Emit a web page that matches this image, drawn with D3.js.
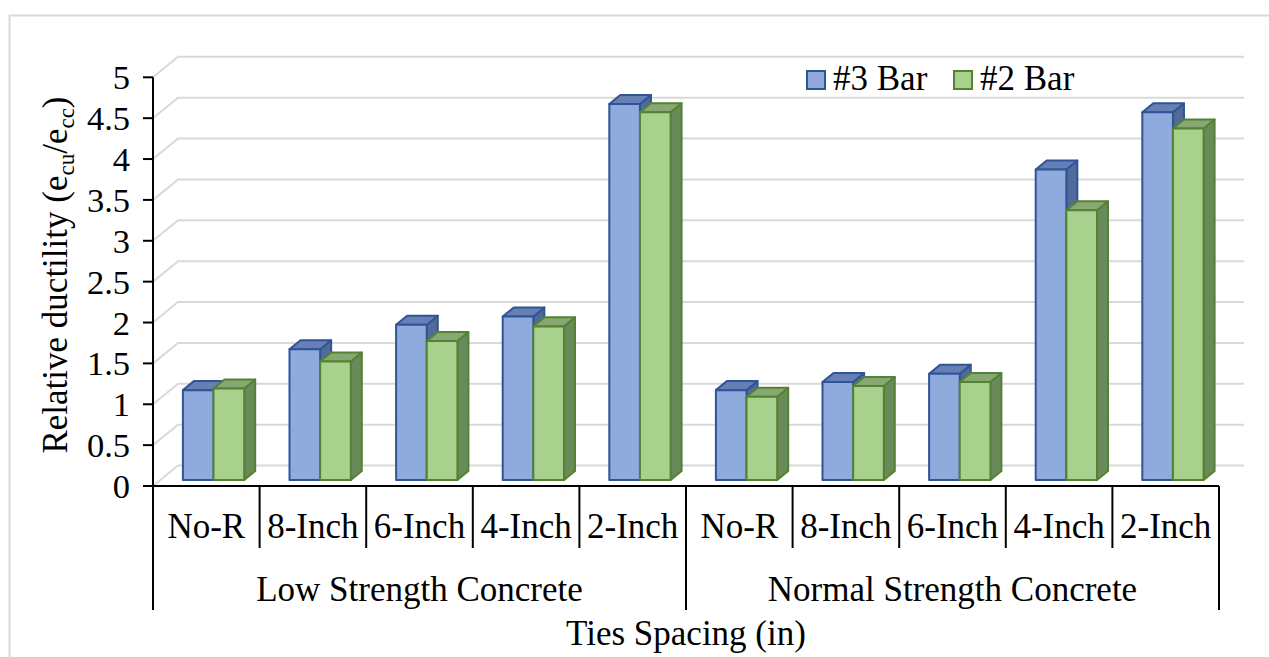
<!DOCTYPE html>
<html><head><meta charset="utf-8">
<script src="https://cdn.jsdelivr.net/npm/d3@7"></script>
<style>body{margin:0;background:#fff;} svg{display:block;} text{font-family:"Liberation Serif","Times New Roman",Times,"DejaVu Serif",serif;}</style>
</head><body>
<svg id="c" width="1269" height="657"></svg>
<script>
const categories = ["No-R","8-Inch","6-Inch","4-Inch","2-Inch","No-R","8-Inch","6-Inch","4-Inch","2-Inch"];
const groups = ["Low Strength Concrete","Normal Strength Concrete"];
const seriesNames = ["#3 Bar","#2 Bar"];
const bar3 = [1.1, 1.6, 1.9, 2.0, 4.6, 1.1, 1.2, 1.3, 3.8, 4.5];
const bar2 = [1.12, 1.45, 1.7, 1.88, 4.5, 1.02, 1.15, 1.2, 3.3, 4.3];
const yTicks = [0,0.5,1,1.5,2,2.5,3,3.5,4,4.5,5];
const yTickLabels = ["0","0.5","1","1.5","2","2.5","3","3.5","4","4.5","5"];

const svg = d3.select("#c");
const L = 153, R = 1219;
const x = d3.scaleBand().domain(d3.range(categories.length)).range([L, R]);
const y = d3.scaleLinear().domain([0,5]).range([486, 77.3]);
const DX = 25, DY = -20.5;      // full floor depth offset
const d0 = 0.29, dd = 0.44;     // bar depth start and depth length (fractions)

// chart frame
svg.append("rect").attr("x",9.5).attr("y",15.5).attr("width",1300).attr("height",700)
  .attr("fill","#fff").attr("stroke","#d9d9d9").attr("stroke-width",2);

// gridlines (side wall + back wall)
const grid = svg.append("g");
yTicks.forEach(v=>{
  grid.append("path")
    .attr("d", `M${L},${y(v)} L${L+DX},${y(v)+DY} L${R+DX},${y(v)+DY}`)
    .attr("fill","none").attr("stroke","#d9d9d9").attr("stroke-width",2);
});

// bars
const series = [
  {vals: bar3, front:"#8faadc", top:"#6680b5", side:"#526a98", edge:"#2f5597"},
  {vals: bar2, front:"#a9d18e", top:"#87a872", side:"#6b8a59", edge:"#548235"}
];
const bw = x.bandwidth();
const barW = bw*0.2875;
const gap = (bw - 2*barW)/2;
const bars = svg.append("g");
categories.forEach((c,i)=>{
  series.forEach((s,k)=>{
    const v = s.vals[i];
    const x0 = x(i) + gap + k*barW + d0*DX;
    const x1 = x0 + barW;
    const yb = y(0) + d0*DY;
    const yt = y(v) + d0*DY;
    const ox = dd*DX, oy = dd*DY;
    const g = bars.append("g").attr("stroke",s.edge).attr("stroke-width",2).attr("stroke-linejoin","round");
    g.append("path").attr("d",`M${x1},${yb} L${x1+ox},${yb+oy} L${x1+ox},${yt+oy} L${x1},${yt} Z`).attr("fill",s.side);
    g.append("path").attr("d",`M${x0},${yt} L${x0+ox},${yt+oy} L${x1+ox},${yt+oy} L${x1},${yt} Z`).attr("fill",s.top);
    g.append("rect").attr("x",x0).attr("y",yt).attr("width",barW).attr("height",yb-yt).attr("fill",s.front);
  });
});

// y axis
const ax = svg.append("g");
ax.append("line").attr("x1",L).attr("x2",L).attr("y1",y(5)).attr("y2",y(0)).attr("stroke","#000").attr("stroke-width",2);
yTicks.forEach((v,i)=>{
  ax.append("line").attr("x1",L-10).attr("x2",L).attr("y1",y(v)).attr("y2",y(v)).attr("stroke","#000").attr("stroke-width",2);
  ax.append("text").attr("x",130).attr("y",y(v)).attr("dy","0.35em").attr("text-anchor","end")
    .attr("font-size",34.5).text(yTickLabels[i]);
});

// x axis (multi-level)
ax.append("line").attr("x1",L).attr("x2",R).attr("y1",y(0)).attr("y2",y(0)).attr("stroke","#000").attr("stroke-width",2);
d3.range(categories.length+1).forEach(i=>{
  const xx = i<categories.length ? x(i) : R;
  const major = (i % 5 === 0);
  ax.append("line").attr("x1",xx).attr("x2",xx).attr("y1",y(0)).attr("y2",major?610:548)
    .attr("stroke","#000").attr("stroke-width",2);
});
categories.forEach((c,i)=>{
  ax.append("text").attr("x",x(i)+bw/2).attr("y",538).attr("text-anchor","middle")
    .attr("font-size",35).text(c);
});
groups.forEach((gname,j)=>{
  const gx = (x(j*5) + x(j*5+4) + bw)/2;
  ax.append("text").attr("x",gx).attr("y",601).attr("text-anchor","middle")
    .attr("font-size",35).text(gname);
});

// axis titles
svg.append("text").attr("x",(L+R)/2).attr("y",645).attr("text-anchor","middle")
  .attr("font-size",35).text("Ties Spacing (in)");
const yt = svg.append("text").attr("transform","translate(67,275) rotate(-90)").attr("text-anchor","middle")
  .attr("font-size",35);
yt.append("tspan").text("Relative ductility (e");
yt.append("tspan").attr("font-size",23).attr("dy",7).text("cu");
yt.append("tspan").attr("dy",-7).text("/e");
yt.append("tspan").attr("font-size",23).attr("dy",7).text("cc");
yt.append("tspan").attr("dy",-7).text(")");

// legend
const leg = svg.append("g");
const legX = [807, 954];
series.forEach((s,k)=>{
  leg.append("rect").attr("x",legX[k]).attr("y",71).attr("width",18).attr("height",18)
    .attr("fill",s.front).attr("stroke",s.edge).attr("stroke-width",2);
  leg.append("text").attr("x",legX[k]+26).attr("y",90).attr("font-size",35).text(seriesNames[k]);
});
</script>
</body></html>
